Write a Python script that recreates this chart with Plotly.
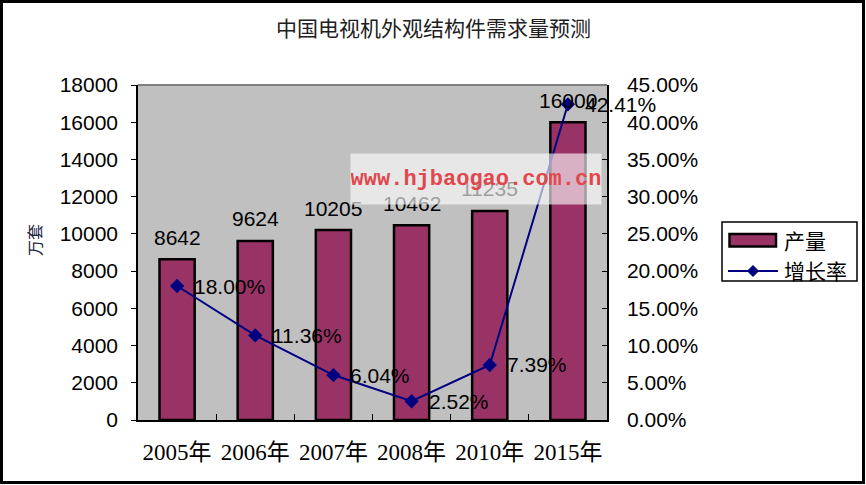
import plotly.graph_objects as go

categories = ["2005年", "2006年", "2007年", "2008年", "2010年", "2015年"]
output = [8642, 9624, 10205, 10462, 11235, 16000]
growth = [0.1800, 0.1136, 0.0604, 0.0252, 0.0739, 0.4241]
growth_labels = ["18.00%", "11.36%", "6.04%", "2.52%", "7.39%", "42.41%"]
title_text = "中国电视机外观结构件需求量预测"
y_title = "万套"
legend_names = ["产量", "增长率"]
watermark = "www.hjbaogao.com.cn"

W_FIG, H_FIG = 866, 485
L, R, T, B = 138, 607, 85, 420
PW, PH = R - L, B - T


def px(x):
    return (x - L) / PW


def py(y):
    return (B - y) / PH


BAR_COLOR = "#993366"
LINE_COLOR = "#000080"
SANS = "Liberation Sans, Arial, sans-serif"
CJK = "Noto Sans CJK SC, sans-serif"
SERIF_CJK = "Liberation Serif, Noto Sans CJK SC, serif"

fig = go.Figure()
fig.add_trace(go.Bar(
    x=categories, y=output, name=legend_names[0], width=0.45,
    marker=dict(color=BAR_COLOR, line=dict(color="black", width=2.5)),
    showlegend=False, yaxis="y",
))
fig.add_trace(go.Scatter(
    x=categories, y=growth, name=legend_names[1], mode="lines+markers",
    line=dict(color=LINE_COLOR, width=2),
    marker=dict(symbol="diamond", size=11, color=LINE_COLOR),
    showlegend=False, yaxis="y2",
))

annotations = []
# bar value labels
for c, v in zip(categories, output):
    annotations.append(dict(x=c, y=v, xref="x", yref="y", text=str(v), showarrow=False,
                            yanchor="middle", xanchor="center", yshift=22,
                            font=dict(family=SANS, size=21, color="black")))
# growth labels
for c, g, t in zip(categories, growth, growth_labels):
    annotations.append(dict(x=c, y=g, xref="x", yref="y2", text=t, showarrow=False,
                            yanchor="middle", xanchor="left", xshift=15,
                            font=dict(family=SANS, size=21, color="black")))
# title
annotations.append(dict(x=px(433), y=py(27), xref="paper", yref="paper", text=title_text,
                        showarrow=False, xanchor="center", yanchor="middle",
                        font=dict(family=CJK, size=21, color="#202020")))
# y axis title
annotations.append(dict(x=px(34), y=py(240), xref="paper", yref="paper", text=y_title,
                        showarrow=False, xanchor="center", yanchor="middle", textangle=-90,
                        font=dict(family=CJK, size=16, color="#202040")))
# legend texts
annotations.append(dict(x=px(782), y=py(240), xref="paper", yref="paper", text=legend_names[0],
                        showarrow=False, xanchor="left", yanchor="middle",
                        font=dict(family=CJK, size=21, color="black")))
annotations.append(dict(x=px(782), y=py(270), xref="paper", yref="paper", text=legend_names[1],
                        showarrow=False, xanchor="left", yanchor="middle",
                        font=dict(family=CJK, size=21, color="black")))
# watermark (drawn last, on top)
annotations.append(dict(x=px(476), y=py(179), xref="paper", yref="paper", text="<b>" + watermark + "</b>",
                        showarrow=False, xanchor="center", yanchor="middle",
                        width=250, height=50, borderpad=0,
                        bgcolor="rgba(255,255,255,0.62)",
                        font=dict(family="Liberation Mono, monospace", size=22, color="#e0484e")))

shapes = [
    # outer frame
    dict(type="rect", xref="paper", yref="paper", x0=px(1.5), x1=px(863.5), y0=py(1.5), y1=py(482.5),
         line=dict(color="black", width=3), layer="above"),
    # top border of plot area
    dict(type="line", xref="paper", yref="paper", x0=0, x1=1, y0=1, y1=1,
         line=dict(color="#808080", width=2), layer="above"),
    # legend box
    dict(type="rect", xref="paper", yref="paper", x0=px(722), x1=px(857), y0=py(222), y1=py(281),
         line=dict(color="black", width=1.5), fillcolor="white"),
    # legend bar swatch
    dict(type="rect", xref="paper", yref="paper", x0=px(729.5), x1=px(776), y0=py(234), y1=py(246.5),
         line=dict(color="black", width=2.5), fillcolor=BAR_COLOR),
    # legend line swatch
    dict(type="line", xref="paper", yref="paper", x0=px(728), x1=px(778), y0=py(271), y1=py(271),
         line=dict(color=LINE_COLOR, width=2)),
    dict(type="path", xref="paper", yref="paper",
         path="M {} {} L {} {} L {} {} L {} {} Z".format(px(753), py(265.5), px(758.5), py(271),
                                                         px(753), py(276.5), px(747.5), py(271)),
         line=dict(color=LINE_COLOR, width=1), fillcolor=LINE_COLOR),
]

fig.update_layout(
    width=W_FIG, height=H_FIG,
    margin=dict(l=L, r=W_FIG - R, t=T, b=H_FIG - B, pad=0, autoexpand=False),
    paper_bgcolor="white", plot_bgcolor="#C0C0C0",
    showlegend=False, bargap=0.55,
    annotations=annotations, shapes=shapes,
    xaxis=dict(
        type="category", range=[-0.5, len(categories) - 0.5],
        showgrid=False, showline=True, linecolor="black", linewidth=1.5,
        ticks="inside", tickson="boundaries", ticklen=6, tickcolor="black", tickwidth=1,
        tickfont=dict(family=SERIF_CJK, size=23, color="black"), ticklabelstandoff=11,
        tickangle=0, automargin=False, zeroline=False, fixedrange=True,
    ),
    yaxis=dict(
        range=[0, 18000], dtick=2000, tick0=0, tickformat="d", showgrid=False,
        showline=True, linecolor="black", linewidth=1.5, ticks="outside", ticklen=5,
        tickcolor="black", tickwidth=1, tickfont=dict(family=SANS, size=21, color="black"),
        ticklabelstandoff=9, zeroline=False, fixedrange=True, automargin=False,
    ),
    yaxis2=dict(
        range=[0, 0.45], dtick=0.05, tick0=0, tickformat=".2%", overlaying="y", side="right",
        showgrid=False, showline=True, linecolor="black", linewidth=1.5, ticks="inside",
        ticklen=5, tickcolor="black", tickwidth=1,
        tickfont=dict(family=SANS, size=21, color="black"), ticklabelstandoff=14,
        zeroline=False, fixedrange=True, automargin=False,
    ),
)

fig.write_html("out.html", config={"displayModeBar": False},
               post_script="document.body.style.margin='0';")
